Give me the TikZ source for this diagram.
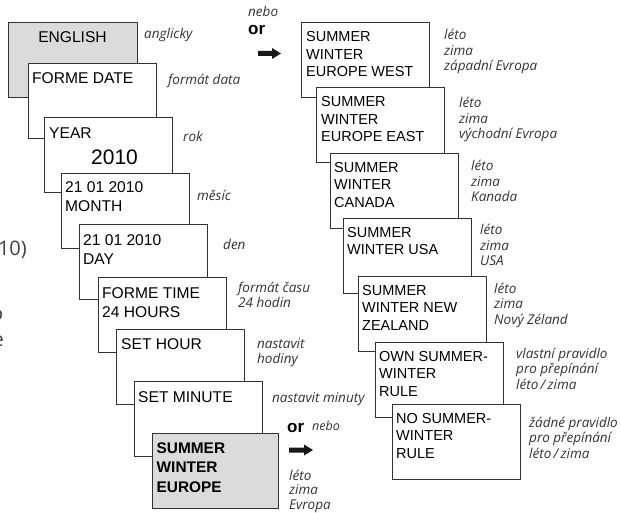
\documentclass[tikz,border=0pt]{standalone}
\usepackage{fontspec}
\setmainfont{Liberation Sans}
\newfontfamily\labfont{Open Sans}
\newcommand\mlines[1]{\begin{tabular}[t]{@{}l@{}}#1\end{tabular}}
\begin{document}
\begin{tikzpicture}[x=1pt,y=-1pt,
  scr/.style={draw=black!80, line width=0.9pt, fill=white, minimum width=128pt, minimum height=75pt, anchor=north west, inner sep=0pt, outer sep=0pt},
  grayscr/.style={scr, fill=black!14},
  ltxt/.style={anchor=base west, inner sep=0pt, font=\fontsize{15.6}{19}\selectfont},
  rtxt/.style={anchor=base west, inner sep=0pt, font=\fontsize{14.5}{17.5}\selectfont},
  lab/.style={anchor=base west, inner sep=0pt, text=black!80, font=\labfont\itshape\fontsize{13.5}{15.5}\selectfont},
  ortxt/.style={anchor=base west, inner sep=0pt, font=\bfseries\fontsize{17}{20}\selectfont},
  frag/.style={anchor=base east, inner sep=0pt, text=black!75, font=\labfont\fontsize{20}{24}\selectfont}
]
\useasboundingbox (0,0) rectangle (621,513);

% fragments from cropped page text
\node[frag] (f1) at (27,255) {(2010)};
\node[frag] (f2) at (3.5,320) {o};
\node[frag] (f3) at (4,346) {e};

% left column
\node[grayscr, minimum width=129pt] (b1) at (8,22) {};
\node[anchor=base, inner sep=0pt, font=\fontsize{15.6}{19}\selectfont] (t1) at (72.5,43) {ENGLISH};
\node[scr] (b2) at (28,63) {};
\node[ltxt] (t2) at (32,84) {FORME DATE};
\node[scr] (b3) at (44,117) {};
\node[ltxt] (t3) at (49,139) {YEAR};
\node[anchor=base west, inner sep=0pt, font=\fontsize{21}{24}\selectfont] (t3b) at (91,165) {2010};
\node[scr] (b4) at (61,173) {};
\node[ltxt] (t4) at (65,193) {\mlines{21 01 2010\\MONTH}};
\node[scr] (b5) at (79,224) {};
\node[ltxt] (t5) at (83,245) {\mlines{21 01 2010\\DAY}};
\node[scr] (b6) at (98,277) {};
\node[ltxt] (t6) at (102,298) {\mlines{FORME TIME\\24 HOURS}};
\node[scr] (b7) at (116,329) {};
\node[ltxt] (t7) at (121,349) {SET HOUR};
\node[scr] (b8) at (134,381) {};
\node[ltxt] (t8) at (138,402) {SET MINUTE};
\node[grayscr, minimum width=126pt] (b9) at (152,433) {};
\node[ltxt, font=\bfseries\fontsize{15.4}{19.5}\selectfont] (t9) at (156.5,453) {\mlines{SUMMER\\WINTER\\EUROPE}};

% left labels
\node[lab] (l1) at (144,39) {anglicky};
\node[lab] (l2) at (168,85) {formát data};
\node[lab] (l3) at (183,142) {rok};
\node[lab] (l4) at (197,201) {měsíc};
\node[lab] (l5) at (223,249) {den};
\node[lab, font=\labfont\itshape\fontsize{13.5}{15}\selectfont] (l6) at (238,292) {\mlines{formát času\\24 hodin}};
\node[lab, font=\labfont\itshape\fontsize{13.5}{15}\selectfont] (l7) at (257,348) {\mlines{nastavit\\hodiny}};
\node[lab] (l8) at (272,402) {nastavit minuty};
\node[lab, font=\labfont\itshape\fontsize{13.5}{14.5}\selectfont] (l9) at (289,480) {\mlines{léto\\zima\\Evropa}};

% "or" markers
\node[lab] (n1) at (248,17) {nebo};
\node[ortxt] (o1) at (248,35) {or};
\fill[black!90] (258,51) -- (272,51) -- (272,48) -- (281,53.5) -- (272,59) -- (272,56) -- (258,56) -- cycle;
\node[ortxt] (o2) at (287,432) {or};
\node[lab, font=\labfont\itshape\fontsize{12.5}{15}\selectfont] (n2) at (312,430) {nebo};
\fill[black!90] (289,447.5) -- (304,447.5) -- (304,444.5) -- (313,450) -- (304,455.5) -- (304,452.5) -- (289,452.5) -- cycle;

% right column
\node[scr] (r1) at (301,22) {};
\node[rtxt] (s1) at (306,42) {\mlines{SUMMER\\WINTER\\EUROPE WEST}};
\node[scr] (r2) at (316,87) {};
\node[rtxt] (s2) at (321,107) {\mlines{SUMMER\\WINTER\\EUROPE EAST}};
\node[scr] (r3) at (330,153) {};
\node[rtxt] (s3) at (334,172.5) {\mlines{SUMMER\\WINTER\\CANADA}};
\node[scr] (r4) at (343,218) {};
\node[rtxt] (s4) at (347,237) {\mlines{SUMMER\\WINTER USA}};
\node[scr] (r5) at (358,276) {};
\node[rtxt] (s5) at (362,295) {\mlines{SUMMER\\WINTER NEW\\ZEALAND}};
\node[scr] (r6) at (375,342) {};
\node[rtxt] (s6) at (379,361) {\mlines{OWN SUMMER-\\WINTER\\RULE}};
\node[scr] (r7) at (392,404) {};
\node[rtxt] (s7) at (396,423) {\mlines{NO SUMMER-\\WINTER\\RULE}};

% right labels
\node[lab] (q1) at (444,40) {\mlines{léto\\zima\\západní Evropa}};
\node[lab] (q2) at (459,108) {\mlines{léto\\zima\\východní Evropa}};
\node[lab] (q3) at (471,171) {\mlines{léto\\zima\\Kanada}};
\node[lab] (q4) at (480,235) {\mlines{léto\\zima\\USA}};
\node[lab] (q5) at (494,293) {\mlines{léto\\zima\\Nový Zéland}};
\node[lab] (q6) at (516,358) {\mlines{vlastní pravidlo\\pro přepínání\\léto\,/\,zima}};
\node[lab] (q7) at (529,427) {\mlines{žádné pravidlo\\pro přepínání\\léto\,/\,zima}};
\end{tikzpicture}
\end{document}
